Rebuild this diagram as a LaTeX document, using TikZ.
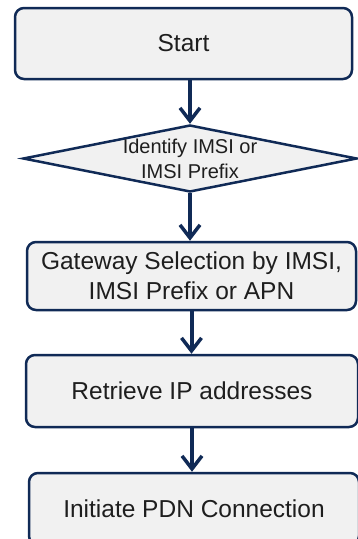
\documentclass[tikz,border=0pt]{standalone}
\usepackage{fontspec}
\setmainfont{Liberation Sans}
\usetikzlibrary{shapes.geometric,arrows.meta}
\definecolor{navy}{RGB}{16,42,86}
\definecolor{boxfill}{RGB}{241,241,241}
\definecolor{txt}{RGB}{30,30,30}
\tikzset{
  stepbox/.style={draw=navy, line width=2.5pt, fill=boxfill, rounded corners=9pt,
    text=txt, align=center, inner sep=0pt,
    font=\fontsize{24.5}{30}\selectfont},
  decbox/.style={draw=navy, line width=2.5pt, fill=boxfill, diamond,
    text=txt, align=center, inner xsep=-90pt, inner ysep=-30pt,
    font=\fontsize{20}{25}\selectfont},
  flow/.style={draw=navy, line width=4pt,
    -{Straight Barb[length=13pt,width=20pt,line width=3.5pt]}}
}
\begin{document}
\begin{tikzpicture}[x=1pt,y=-1pt]
\useasboundingbox (0,0) rectangle (357,539);
\node[stepbox, minimum width=337pt, minimum height=71pt] (start) at (183.5,43.5) {Start};
\node[decbox, minimum width=334pt, minimum height=67pt] (dia) at (190,158.5) {Identify IMSI or\\IMSI Prefix};
\node[stepbox, minimum width=329pt, minimum height=68pt] (gw) at (191.5,276) {Gateway Selection by IMSI,\\IMSI Prefix or APN};
\node[stepbox, minimum width=332pt, minimum height=72pt] (ret) at (192,391) {Retrieve IP addresses};
\node[stepbox, minimum width=330pt, minimum height=72pt] (init) at (194,509) {Initiate PDN Connection};
\draw[flow] (start.south -| dia.north) -- (dia.north);
\draw[flow] (dia.south) -- (dia.south |- gw.north);
\draw[flow] (gw.south) -- (gw.south |- ret.north);
\draw[flow] (ret.south) -- (ret.south |- init.north);
\end{tikzpicture}
\end{document}
